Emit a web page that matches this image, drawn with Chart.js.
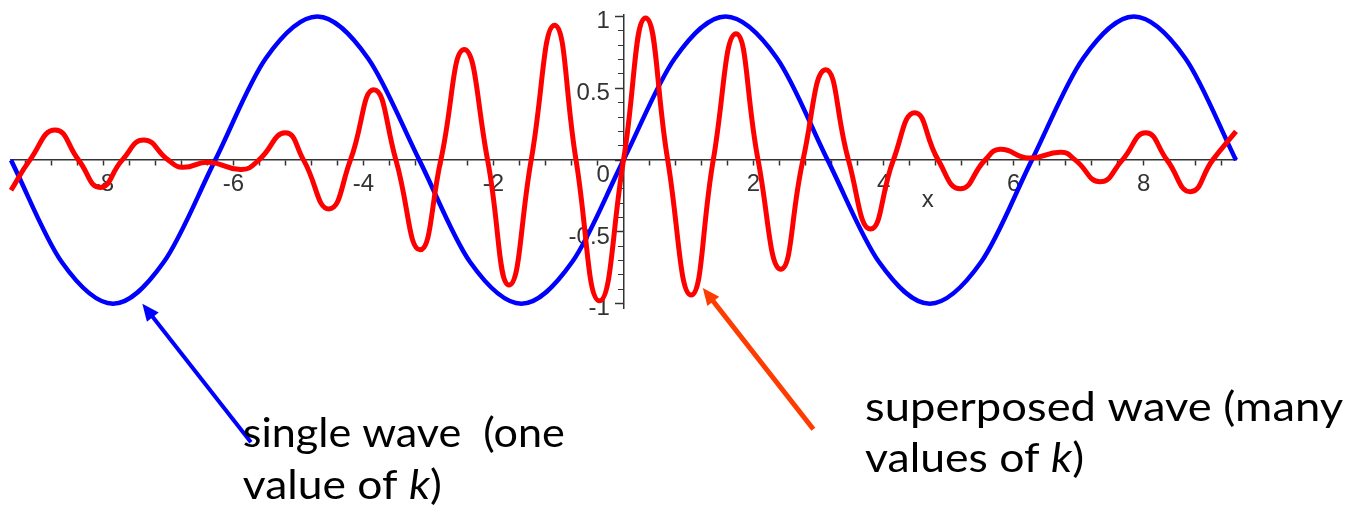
<!DOCTYPE html>
<html>
<head>
<meta charset="utf-8">
<script src="https://cdn.jsdelivr.net/npm/chart.js@4.4.1/dist/chart.umd.min.js"></script>
<style>
  html, body { margin: 0; padding: 0; background: #fff; }
  #wrap { width: 1348px; height: 517px; }
</style>
</head>
<body>
<div id="wrap"><canvas id="waveChart" width="1348" height="517"></canvas></div>
<script>
// axis range (x in radians, y amplitude)
const xMin = -9.42;
const xMax = 9.42;
const yMin = -1.03;
const yMax = 1.015;

// single wave (blue)
const singleX = [-9.42, -8.64, -7.85, -7.07, -6.28, -5.50, -4.71, -3.93, -3.14, -2.36, -1.57, -0.79, 0,
                 0.79, 1.57, 2.36, 3.14, 3.93, 4.71, 5.50, 6.28, 7.07, 7.85, 8.64, 9.42];
const singleY = [0, -0.71, -1, -0.71, 0, 0.71, 1, 0.71, 0, -0.71, -1, -0.71, 0,
                 0.71, 1, 0.71, 0, -0.71, -1, -0.71, 0, 0.71, 1, 0.71, 0];

// superposed wave (red): extrema and zero crossings
const superX = [-9.42, -9.13, -8.74, -8.38, -8.05, -7.71, -7.38, -7.00, -6.79, -6.38, -5.87, -5.61,
                -5.20, -4.92, -4.53, -4.20, -3.84, -3.50, -3.13, -2.81, -2.45, -2.09, -1.76, -1.42,
                -1.06, -0.73, -0.37, 0, 0.34, 0.68, 1.04, 1.38, 1.73, 2.07, 2.42, 2.76, 3.11, 3.46,
                3.80, 4.15, 4.48, 4.84, 5.18, 5.56, 5.79, 6.23, 6.74, 6.95, 7.33, 7.67, 8.03, 8.36,
                8.72, 9.06, 9.42];
const superY = [-0.21, 0, 0.21, 0, -0.19, 0, 0.14, 0, -0.05, -0.015, -0.065, 0,
                0.19, 0, -0.34, 0, 0.49, 0, -0.625, 0, 0.77, 0, -0.87, 0,
                0.94, 0, -0.98, 0, 0.99, 0, -0.94, 0, 0.88, 0, -0.76, 0, 0.63, 0,
                -0.48, 0, 0.33, 0, -0.2, 0, 0.075, 0.015, 0.055, 0, -0.15, 0, 0.19, 0,
                -0.22, 0, 0.2];

// tick labels
const xLabels = ['-8', '-6', '-4', '-2', '2', '4', '6', '8'];
const yLabels = ['-1', '-0.5', '0.5', '1'];
const xTitle = 'x';
const xTitleAt = 4.68;
const yLabelAt = -0.209;   // y labels sit just left of the y axis

// annotation arrows (data units) and captions
const arrowFrom = [[-5.73, -1.965], [2.92, -1.875]];
const arrowTo = [[-7.40, -1.0], [1.22, -0.89]];
const arrowColor = ['#0000ff', '#ff3c00'];
const arrowWidth = [4, 5];

const noteAt = [[-5.855, -2.0], [-5.855, -2.361], [3.715, -1.817], [3.715, -2.174]];
const noteText = [
    [['single wave  (one', false]],
    [['value of ', false], ['k', true], [')', false]],
    [['superposed wave (many', false]],
    [['values of ', false], ['k', true], [')', false]]
];
const noteWidth = [322, 199, 478, 219];

const tickFont = { family: '"Liberation Sans", Arial, sans-serif', size: 24 };
const tickColor = '#333';
const noteFont = 'Lato, "Open Sans", sans-serif';

function toPoints(xs, ys) {
    return xs.map((v, i) => ({ x: v, y: ys[i] }));
}

function isLabelled(value, list) {
    return list.some(l => Math.abs(parseFloat(l) - value) < 1e-6);
}

function drawArrow(ctx, x1, y1, x2, y2, color, width) {
    const ang = Math.atan2(y2 - y1, x2 - x1);
    const head = 17;
    const half = 7.5;
    const bx = x2 - head * Math.cos(ang);
    const by = y2 - head * Math.sin(ang);
    ctx.save();
    ctx.strokeStyle = color;
    ctx.fillStyle = color;
    ctx.lineWidth = width;
    ctx.beginPath();
    ctx.moveTo(x1, y1);
    ctx.lineTo(bx + 2 * Math.cos(ang), by + 2 * Math.sin(ang));
    ctx.stroke();
    ctx.beginPath();
    ctx.moveTo(x2, y2);
    ctx.lineTo(bx + half * Math.sin(ang), by - half * Math.cos(ang));
    ctx.lineTo(bx - half * Math.sin(ang), by + half * Math.cos(ang));
    ctx.closePath();
    ctx.fill();
    ctx.restore();
}

function drawNote(ctx, px, py, parts, targetW) {
    const size = 40;
    const fonts = parts.map(p => (p[1] ? 'italic ' : '') + size + 'px ' + noteFont);
    let total = 0;
    const widths = parts.map((p, i) => {
        ctx.font = fonts[i];
        const w = ctx.measureText(p[0]).width;
        total += w;
        return w;
    });
    const sx = Math.min(1.2, Math.max(0.8, targetW / total));
    ctx.save();
    ctx.translate(px, py);
    ctx.scale(sx, 1);
    ctx.fillStyle = '#000';
    ctx.textBaseline = 'alphabetic';
    ctx.textAlign = 'left';
    let cx = 0;
    parts.forEach((p, i) => {
        ctx.font = fonts[i];
        ctx.fillText(p[0], cx, 0);
        cx += widths[i];
    });
    ctx.restore();
}

const notesPlugin = {
    id: 'waveNotes',
    afterDraw(chart) {
        const { ctx } = chart;
        const sx = chart.scales.x;
        const sy = chart.scales.y;
        arrowFrom.forEach((f, i) => {
            drawArrow(ctx,
                sx.getPixelForValue(f[0]), sy.getPixelForValue(f[1]),
                sx.getPixelForValue(arrowTo[i][0]), sy.getPixelForValue(arrowTo[i][1]),
                arrowColor[i], arrowWidth[i]);
        });
        noteAt.forEach((p, i) => {
            drawNote(ctx, sx.getPixelForValue(p[0]), sy.getPixelForValue(p[1]), noteText[i], noteWidth[i]);
        });
    }
};

const ctx = document.getElementById('waveChart').getContext('2d');

const waveChart = new Chart(ctx, {
    type: 'line',
    data: {
        datasets: [
            {
                label: 'superposed wave',
                data: toPoints(superX, superY),
                borderColor: '#ff0000',
                borderWidth: 5,
                pointRadius: 0,
                tension: 0.5,
                clip: false
            },
            {
                label: 'single wave',
                data: toPoints(singleX, singleY),
                borderColor: '#0000ff',
                borderWidth: 4.5,
                pointRadius: 0,
                cubicInterpolationMode: 'monotone',
                clip: false
            }
        ]
    },
    options: {
        responsive: false,
        animation: false,
        layout: { padding: { left: 11, top: 14.4, right: 112, bottom: 209 } },
        plugins: { legend: { display: false }, tooltip: { enabled: false } },
        scales: {
            x: {
                type: 'linear',
                min: xMin,
                max: xMax,
                position: { y: 0 },
                border: { display: true, color: tickColor, width: 1.5 },
                grid: { drawOnChartArea: false, drawTicks: true, tickLength: 5, tickColor: tickColor, tickWidth: 1.5 },
                ticks: {
                    stepSize: 0.4,
                    includeBounds: false,
                    autoSkip: false,
                    maxRotation: 0,
                    padding: 5,
                    color: tickColor,
                    font: tickFont,
                    callback: v => (isLabelled(v, xLabels) ? String(Math.round(v)) : '')
                }
            },
            xTitle: {
                type: 'linear',
                axis: 'x',
                min: xMin,
                max: xMax,
                position: { y: 0 },
                border: { display: false },
                grid: { display: false, drawTicks: false },
                afterBuildTicks: s => { s.ticks = [{ value: xTitleAt }]; },
                ticks: { padding: 26, color: tickColor, font: tickFont, callback: () => xTitle }
            },
            y: {
                type: 'linear',
                min: yMin,
                max: yMax,
                position: { x: 0 },
                border: { display: true, color: tickColor, width: 1.5 },
                grid: { drawOnChartArea: false, drawTicks: true, tickLength: 5, tickColor: tickColor, tickWidth: 1 },
                ticks: { stepSize: 0.1, includeBounds: false, autoSkip: false, padding: 0, callback: () => '' }
            },
            yMajor: {
                type: 'linear',
                axis: 'y',
                min: yMin,
                max: yMax,
                position: { x: 0 },
                border: { display: false },
                grid: { drawOnChartArea: false, drawTicks: true, tickLength: 9, tickColor: tickColor, tickWidth: 1.5 },
                ticks: { stepSize: 0.5, includeBounds: false, autoSkip: false, padding: 0, callback: () => '' }
            },
            yText: {
                type: 'linear',
                axis: 'y',
                min: yMin,
                max: yMax,
                position: { x: yLabelAt },
                border: { display: false },
                grid: { display: false, drawTicks: false },
                ticks: {
                    stepSize: 0.5,
                    includeBounds: false,
                    autoSkip: false,
                    padding: 0,
                    labelOffset: 5,
                    color: tickColor,
                    font: tickFont,
                    callback: v => (isLabelled(v, yLabels) ? String(v) : '')
                }
            },
            yZero: {
                type: 'linear',
                axis: 'y',
                min: yMin,
                max: yMax,
                position: { x: yLabelAt },
                border: { display: false },
                grid: { display: false, drawTicks: false },
                afterBuildTicks: s => { s.ticks = [{ value: 0 }]; },
                ticks: { padding: 0, labelOffset: 15, color: tickColor, font: tickFont, callback: () => '0' }
            }
        }
    },
    plugins: [notesPlugin]
});
</script>
</body>
</html>
